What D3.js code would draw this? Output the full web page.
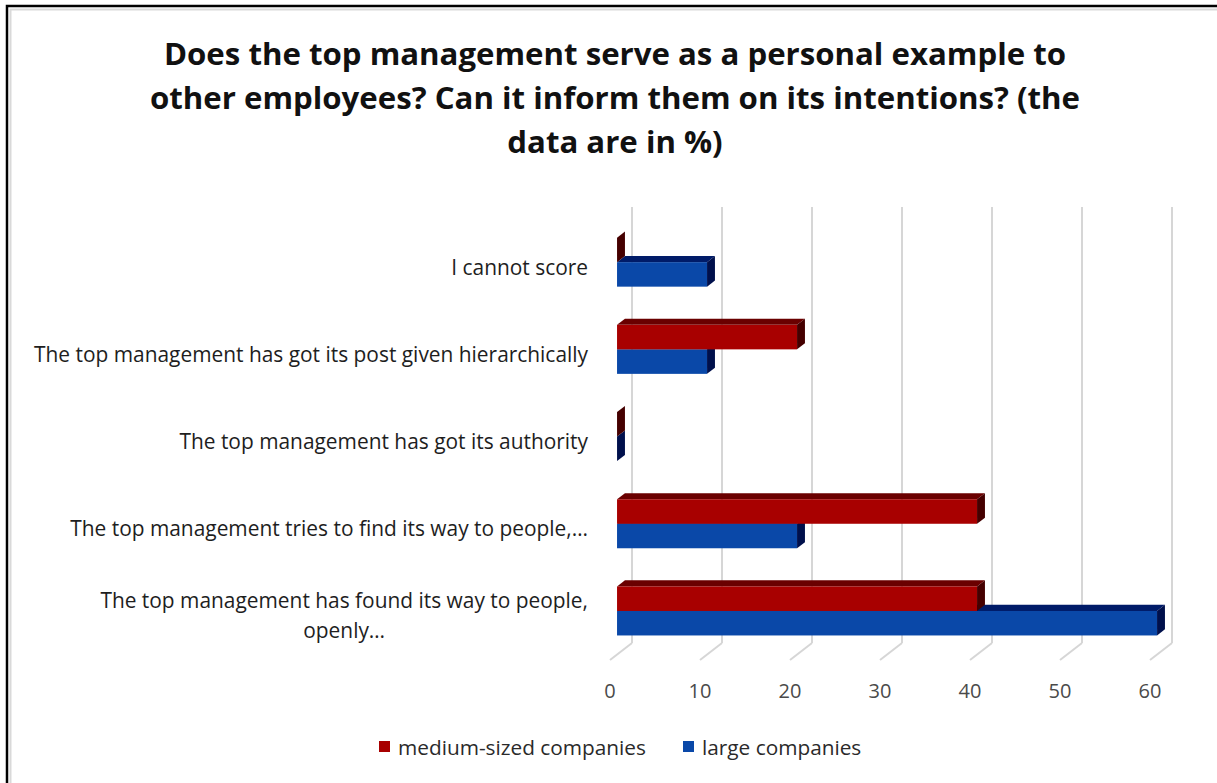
<!DOCTYPE html>
<html>
<head>
<meta charset="utf-8">
<script src="https://cdn.jsdelivr.net/npm/d3@7"></script>
<style>
  body { margin: 0; background: #fff; }
  svg { display: block; }
  text { font-family: "Open Sans", Lato, sans-serif; }
</style>
</head>
<body>
<svg width="1217" height="783"></svg>
<script>
var categories = [
  "I cannot score",
  "The top management has got its post given hierarchically",
  "The top management has got its authority",
  "The top management tries to find its way to people,…",
  "The top management has found its way to people, openly…"
];
var labelLines = [
  ["I cannot score"],
  ["The top management has got its post given hierarchically"],
  ["The top management has got its authority"],
  ["The top management tries to find its way to people,…"],
  ["The top management has found its way to people,", "openly…"]
];
var seriesNames = ["medium-sized companies", "large companies"];
var mediumValues = [0, 20, 0, 40, 40];
var largeValues = [10, 10, 0, 20, 60];
var tickValues = [0, 10, 20, 30, 40, 50, 60];
var titleLines = [
  "Does the top management serve as a personal example to",
  "other employees? Can it inform them on its intentions? (the",
  "data are in %)"
];

var svg = d3.select("svg"),
  width = +svg.attr("width"),
  height = +svg.attr("height");

// colours: front, top, side
var colors = {
  "medium-sized companies": { front: "#a80000", top: "#6a0000", side: "#450000" },
  "large companies": { front: "#0a48a8", top: "#001b68", side: "#00104c" }
};

// frame of the page
svg.append("rect").attr("x", 7).attr("y", 6).attr("width", 1400).attr("height", 1000)
  .attr("fill", "#fff").attr("stroke", "#000").attr("stroke-width", 2.5);
svg.append("path").attr("d", "M10.5,800V9.5H1217")
  .attr("fill", "none").attr("stroke", "#d9d9d9").attr("stroke-width", 2);

// title
svg.append("g").selectAll("text")
  .data(titleLines)
  .enter().append("text")
  .attr("x", 615)
  .attr("y", function (d, i) { return 65 + i * 44; })
  .attr("text-anchor", "middle")
  .attr("font-weight", "bold")
  .attr("font-size", 31.2)
  .attr("fill", "#111")
  .text(function (d) { return d; });

// 3D projection: depth pushes right and up
var depthX = 22, depthY = -17;
var d0 = 0.32, d1 = 0.68;

var x = d3.scaleLinear().domain([0, 60]).range([610, 1150]);
var y = d3.scaleBand().domain(categories).range([224, 660]);
var barH = 24.5;
var ySeries = d3.scaleBand().domain(seriesNames);

// back wall gridlines + floor diagonals
var grid = svg.append("g").attr("class", "grid");
grid.selectAll("line.wall")
  .data(tickValues)
  .enter().append("line")
  .attr("x1", function (d) { return x(d) + depthX; })
  .attr("x2", function (d) { return x(d) + depthX; })
  .attr("y1", y.range()[0] + depthY)
  .attr("y2", y.range()[1] + depthY)
  .attr("stroke", "#d6d6d6").attr("stroke-width", 2);
grid.selectAll("line.floor")
  .data(tickValues)
  .enter().append("line")
  .attr("x1", function (d) { return x(d) + depthX; })
  .attr("x2", function (d) { return x(d); })
  .attr("y1", y.range()[1] + depthY)
  .attr("y2", y.range()[1])
  .attr("stroke", "#d6d6d6").attr("stroke-width", 2);

// tick labels
svg.append("g").selectAll("text")
  .data(tickValues)
  .enter().append("text")
  .attr("x", function (d) { return x(d); })
  .attr("y", 698)
  .attr("text-anchor", "middle")
  .attr("font-size", 20)
  .attr("fill", "#4a4a4a")
  .text(function (d) { return d; });

// bars
var bars = [];
categories.forEach(function (c, i) {
  // large drawn first so medium (above) overlaps its top face
  bars.push({ cat: c, s: "large companies", v: largeValues[i] });
  bars.push({ cat: c, s: "medium-sized companies", v: mediumValues[i] });
});

var ox0 = depthX * d0, oy0 = depthY * d0, ox1 = depthX * d1, oy1 = depthY * d1;

var bar = svg.append("g").attr("class", "bars").selectAll("g")
  .data(bars)
  .enter().append("g")
  .each(function (d) {
    var c = y(d.cat) + y.bandwidth() / 2;
    ySeries.range([c - barH, c + barH]);
    var top = ySeries(d.s), bot = top + barH;
    var xa = x(0), xb = x(d.v);
    var g = d3.select(this), col = colors[d.s];
    var pts = function (p) { return p.map(function (q) { return q.join(","); }).join(" "); };
    // top face
    g.append("polygon")
      .attr("points", pts([[xa + ox0, top + oy0], [xb + ox0, top + oy0], [xb + ox1, top + oy1], [xa + ox1, top + oy1]]))
      .attr("fill", col.top);
    // front face
    g.append("rect")
      .attr("x", xa + ox0).attr("y", top + oy0)
      .attr("width", xb - xa).attr("height", barH)
      .attr("fill", col.front);
    // right side face
    g.append("polygon")
      .attr("points", pts([[xb + ox0, top + oy0], [xb + ox1, top + oy1], [xb + ox1, bot + oy1], [xb + ox0, bot + oy0]]))
      .attr("fill", col.side);
  });

// category labels
var labels = svg.append("g").attr("class", "labels");
categories.forEach(function (c, i) {
  var lines = labelLines[i];
  var cy = y(c) + y.bandwidth() / 2;
  var t = labels.append("g");
  var texts = t.selectAll("text")
    .data(lines)
    .enter().append("text")
    .attr("font-size", 20.9)
    .attr("fill", "#1e1e1e")
    .attr("text-anchor", "middle")
    .attr("y", function (d, j) { return cy + 7 + (j - (lines.length - 1) / 2) * 30; })
    .text(function (d) { return d; });
  var w = 0;
  texts.each(function () { w = Math.max(w, this.getComputedTextLength()); });
  texts.attr("x", 588 - w / 2);
});

// legend
var legend = svg.append("g").attr("class", "legend");
var legendX = [379, 683];
seriesNames.forEach(function (s, i) {
  legend.append("rect")
    .attr("x", legendX[i]).attr("y", 741)
    .attr("width", 11).attr("height", 11)
    .attr("fill", colors[s].front);
  legend.append("text")
    .attr("x", legendX[i] + 19).attr("y", 755)
    .attr("font-size", 20.8)
    .attr("fill", "#2a2a2a")
    .text(s);
});
</script>
</body>
</html>
